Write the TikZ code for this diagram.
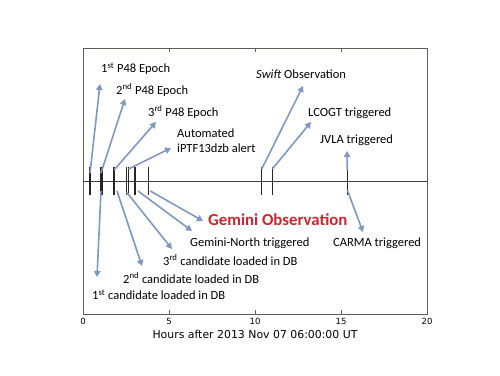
\documentclass[tikz,border=0pt]{standalone}
\usepackage{fontspec}
\setmainfont{Carlito}
\newfontfamily\tickfont{DejaVu Sans}
\usetikzlibrary{arrows.meta}
\definecolor{arrowblue}{RGB}{128,152,190}
\definecolor{geminired}{RGB}{200,38,50}
\definecolor{framegray}{RGB}{95,95,85}

\begin{document}
\begin{tikzpicture}[x=1pt,y=-1pt,
    pointer/.style={draw=arrowblue,line width=1.6pt,-{Triangle[length=6pt,width=6.5pt]}},
    event/.style={line width=1.3pt,black!85},
    lbl/.style={inner sep=0pt,anchor=west,font=\fontsize{12.5}{14}\selectfont},
    ticklbl/.style={inner sep=0pt,font=\tickfont\fontsize{8.5}{9}\selectfont}]
  \useasboundingbox (0,0) rectangle (500,375);
  % frame and axis
  \draw[framegray,line width=0.9pt] (83,48) rectangle (427,314);
  \foreach \h in {5,10,15} {
    \draw[framegray] (83+17.2*\h,314) -- (83+17.2*\h,310);
    \draw[framegray] (83+17.2*\h,48) -- (83+17.2*\h,52);
  }
  \foreach \h in {0,5,10,15,20}
    \node[ticklbl] (t\h) at (83+17.2*\h,321) {\h};
  \node[inner sep=0pt,font=\tickfont\fontsize{10.9}{12}\selectfont] (xlabel) at (255,334) {Hours after 2013 Nov 07 06:00:00 UT};
  \draw[black!75,line width=0.8pt] (83,181) -- (427,181);

  % event bars
  \foreach \x [count=\i] in {90,101,114,126.5,135,148.3,261.7,272.3,347.3} {
    \coordinate (top\i) at (\x,167);
    \coordinate (bot\i) at (\x,195);
    \draw[event] (top\i) -- (bot\i);
  }
  \draw[event] (102.5,167) -- (102.5,195);
  \draw[event] (114.8,167) -- (114.8,195);
  \draw[event] (128.3,167) -- (128.3,195);

  % labels above
  \node[lbl] (p1) at (101,69) {1\textsuperscript{st} P48 Epoch};
  \node[lbl] (p2) at (116,90) {2\textsuperscript{nd} P48 Epoch};
  \node[lbl] (p3) at (148,112) {3\textsuperscript{rd} P48 Epoch};
  \node[lbl,align=left,font=\fontsize{12.5}{15}\selectfont] (alert) at (177,140.5) {Automated\\iPTF13dzb alert};
  \node[lbl] (swift) at (256,74) {\textit{Swift} Observation};
  \node[lbl] (lcogt) at (308,113) {LCOGT triggered};
  \node[lbl] (jvla) at (320,140) {JVLA triggered};

  % labels below
  \node[lbl,font=\bfseries\fontsize{16.8}{18}\selectfont,text=geminired] (gemini) at (208,220) {Gemini Observation};
  \node[lbl] (gnorth) at (190,243) {Gemini-North triggered};
  \node[lbl] (carma) at (333,243) {CARMA triggered};
  \node[lbl] (c3) at (163,260) {3\textsuperscript{rd} candidate loaded in DB};
  \node[lbl] (c2) at (123,278) {2\textsuperscript{nd} candidate loaded in DB};
  \node[lbl] (c1) at (92,295) {1\textsuperscript{st} candidate loaded in DB};

  % arrow tips
  \coordinate (a1) at (100,84);
  \coordinate (a2) at (125,99);
  \coordinate (a3) at (156,122);
  \coordinate (a4) at (171,148);
  \coordinate (a7) at (303,86);
  \coordinate (a8) at (311,122);
  \coordinate (a9) at (347,151);
  \coordinate (b2) at (97,277);
  \coordinate (b3) at (142,266);
  \coordinate (b4) at (172,249);
  \coordinate (b5) at (192,231);
  \coordinate (b6) at (203,221);
  \coordinate (b9) at (363,232);

  \draw[pointer] ([yshift=-6pt]top1) -- (a1);
  \draw[pointer] ([yshift=-6pt]top2) -- (a2);
  \draw[pointer] ([yshift=-3pt]top3) -- (a3);
  \draw[pointer] ([xshift=2pt,yshift=-2pt]top4) -- (a4);
  \draw[pointer] ([yshift=-2pt]top7) -- (a7);
  \draw[pointer] ([yshift=-2pt]top8) -- (a8);
  \draw[pointer] ([yshift=-3pt]top9) -- (a9);
  \draw[pointer] ([yshift=4pt]bot2) -- (b2);
  \draw[pointer] ([xshift=3pt,yshift=4pt]bot3) -- (b3);
  \draw[pointer] ([yshift=3pt]bot4) -- (b4);
  \draw[pointer] ([xshift=3pt,yshift=4pt]bot5) -- (b5);
  \draw[pointer] ([xshift=2pt,yshift=4pt]bot6) -- (b6);
  \draw[pointer] ([yshift=5pt]bot9) -- (b9);
\end{tikzpicture}
\end{document}
